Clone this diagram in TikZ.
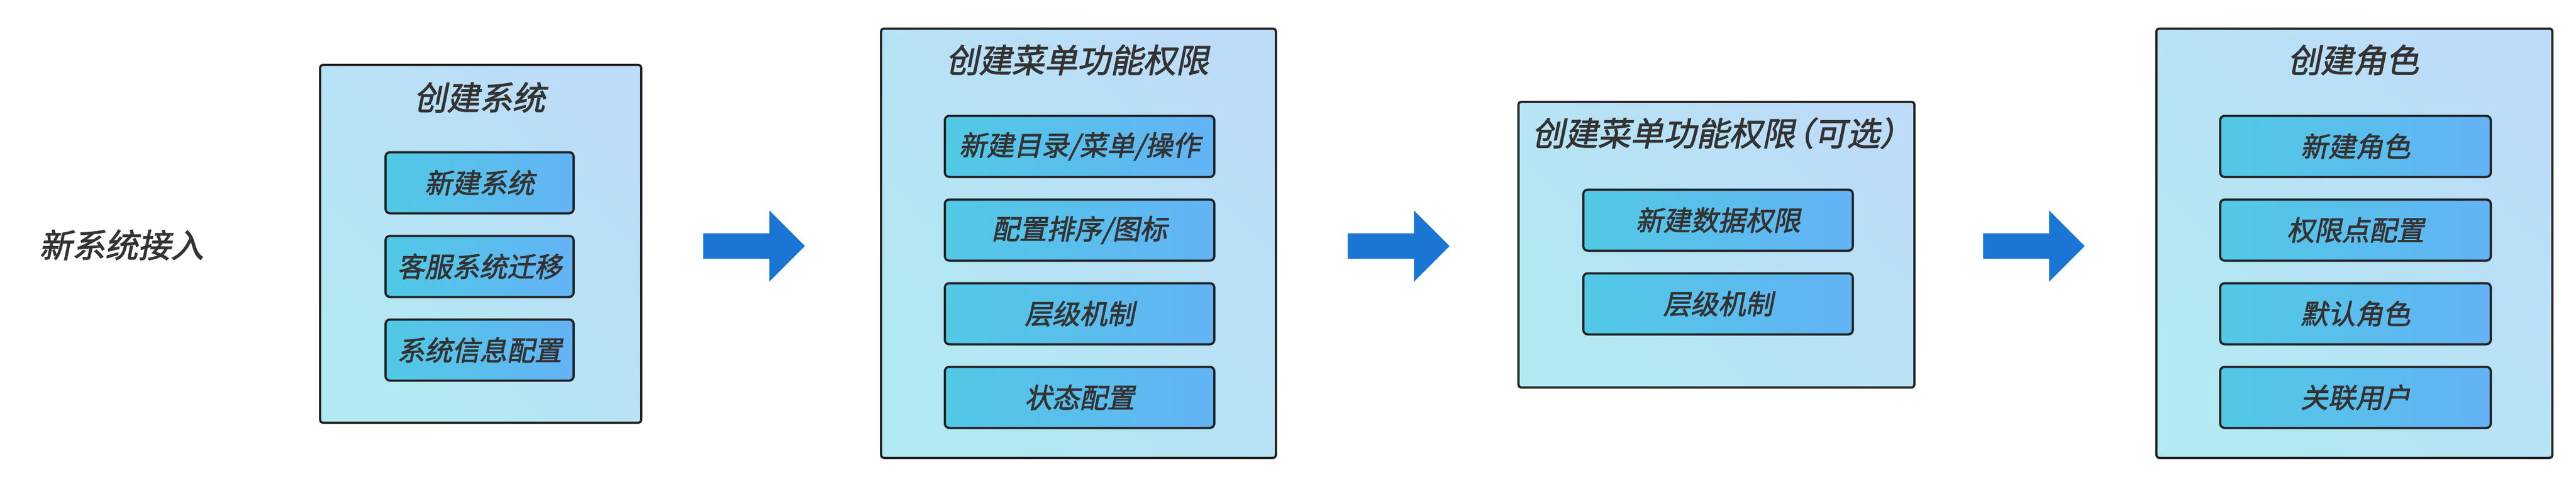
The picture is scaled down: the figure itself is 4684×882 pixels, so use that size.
\documentclass[tikz,border=0pt]{standalone}
\usepackage{fontspec}
\usepackage{tikz}
\usetikzlibrary{positioning, shapes.arrows}

\newfontfamily\cjkfont[FakeSlant=0.2, FakeBold=2]{Noto Sans CJK SC}

\definecolor{textgray}{HTML}{333333}
\definecolor{framegray}{HTML}{222222}
\definecolor{panelcyan}{HTML}{B2E9F2}
\definecolor{panelblue}{HTML}{BCDCF8}
\definecolor{itemcyan}{HTML}{51C9E5}
\definecolor{itemblue}{HTML}{63B3F5}
\definecolor{arrowblue}{HTML}{1A76D2}

\begin{document}
\begin{tikzpicture}[x=0.1mm, y=-0.1mm,
  panel/.style={draw=framegray, line width=0.4mm, rounded corners=0.5mm,
    left color=panelcyan, right color=panelblue, shading angle=135,
    anchor=north west, inner sep=0},
  paneltitle/.style={font=\cjkfont\fontsize{17pt}{20pt}\selectfont, text=textgray},
  item/.style={draw=framegray, line width=0.4mm, rounded corners=0.8mm,
    left color=itemcyan, right color=itemblue, minimum height=11.1mm,
    font=\cjkfont\fontsize{14.2pt}{17pt}\selectfont, text=textgray},
  flowarrow/.style={single arrow, fill=arrowblue, draw=none, minimum height=18.5mm,
    inner xsep=0, inner ysep=2.25mm, single arrow head extend=4.15mm, anchor=tail},
  node distance=3.7mm
]

\useasboundingbox (0,0) rectangle (4684,882);

% start
\node [paneltitle] (start) at (221,445) {新系统接入};

% step 1
\node [panel, minimum width=58.4mm, minimum height=65mm] (sys) at (580,116) {};
\node [paneltitle                       ] (sysT) at (872,177) {创建系统};
\node [item, minimum width=34.2mm       ] (sys1) at (872,332) {新建系统};
\node [item, minimum width=34.2mm, below=of sys1] (sys2) {客服系统迁移};
\node [item, minimum width=34.2mm, below=of sys2] (sys3) {系统信息配置};

\node [flowarrow] (arr1) at (1278,447) {};

% step 2
\node [panel, minimum width=71.8mm, minimum height=78mm] (menu) at (1600,50) {};
\node [paneltitle                       ] (menuT) at (1959,109) {创建菜单功能权限};
\node [item, minimum width=49mm         ] (menu1) at (1963,266) {新建目录/菜单/操作};
\node [item, minimum width=49mm, below=of menu1] (menu2) {配置排序/图标};
\node [item, minimum width=49mm, below=of menu2] (menu3) {层级机制};
\node [item, minimum width=49mm, below=of menu3] (menu4) {状态配置};

\node [flowarrow] (arr2) at (2450,447) {};

% step 3 (optional)
\node [panel, minimum width=72mm, minimum height=51.9mm] (data) at (2759,183) {};
\node [paneltitle                       ] (dataT) at (3119,242) {创建菜单功能权限\kern-0.42em（可选）\kern-0.42em};
\node [item, minimum width=49mm         ] (data1) at (3124,400) {新建数据权限};
\node [item, minimum width=49mm, below=of data1] (data2) {层级机制};

\node [flowarrow] (arr3) at (3605,447) {};

% step 4
\node [panel, minimum width=72mm, minimum height=78mm] (role) at (3919,50) {};
\node [paneltitle                       ] (roleT) at (4279,109) {创建角色};
\node [item, minimum width=49.2mm       ] (role1) at (4283,266) {新建角色};
\node [item, minimum width=49.2mm, below=of role1] (role2) {权限点配置};
\node [item, minimum width=49.2mm, below=of role2] (role3) {默认角色};
\node [item, minimum width=49.2mm, below=of role3] (role4) {关联用户};

\end{tikzpicture}
\end{document}
